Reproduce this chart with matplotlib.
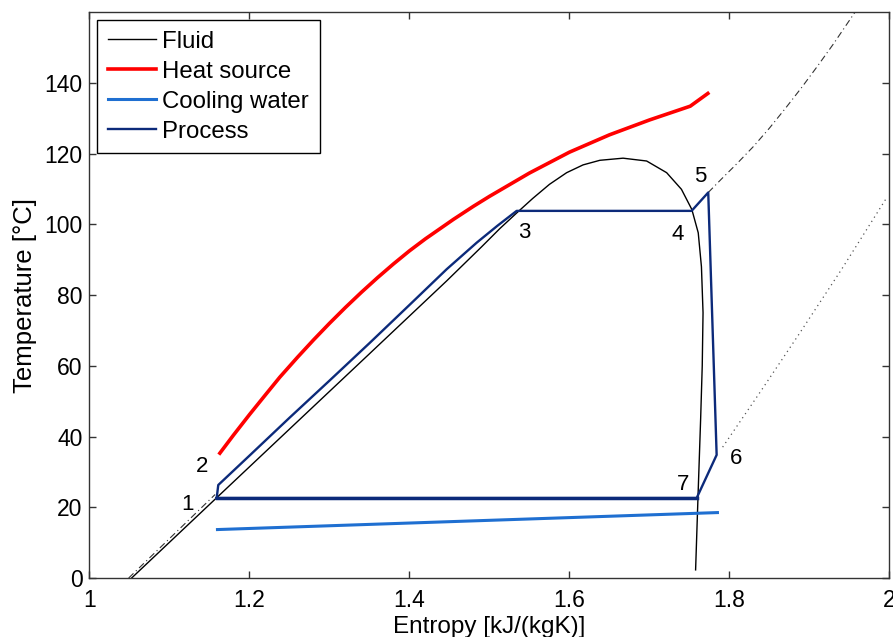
"""
T-s diagram of an ORC process with heat source and cooling water
"""
import numpy as np
import matplotlib
matplotlib.use('Agg')
import matplotlib.pyplot as plt

plt.rcParams['font.family'] = ['Liberation Sans', 'DejaVu Sans']

# saturation dome of the working fluid
fluid_s = [1.0527, 1.159, 1.25, 1.35, 1.4465, 1.49, 1.513, 1.534, 1.554, 1.575, 1.5965,
           1.617, 1.638, 1.667, 1.6965, 1.7215, 1.740, 1.753, 1.761, 1.765, 1.767,
           1.766, 1.764, 1.761, 1.7577]
fluid_T = [0.0, 22.7, 42.1, 63.4, 84.0, 93.6, 98.8, 103.2, 107.3, 111.3, 114.6,
           116.8, 118.1, 118.7, 117.9, 114.6, 109.9, 104.2, 97.6, 88.0, 75.0,
           60.0, 45.0, 25.0, 2.3]

# high pressure isobar (dash-dot), liquid and vapour parts
hp_liq_s = [1.049, 1.157]
hp_liq_T = [0.0, 23.6]
hp_vap_s = [1.7735, 1.79, 1.81, 1.83, 1.85, 1.87, 1.89, 1.91, 1.93, 1.954, 1.957]
hp_vap_T = [109.0, 112.8, 117.3, 122.0, 127.2, 132.8, 138.6, 144.7, 151.0, 159.0, 160.0]

# low pressure isobar (dotted)
lp_s = [1.7915, 1.84, 1.888, 1.94, 1.9965]
lp_T = [37.0, 53.1, 69.3, 87.2, 107.5]

# heat source
hs_s = [1.163, 1.18, 1.20, 1.22, 1.238, 1.26, 1.28, 1.30, 1.32, 1.34, 1.36, 1.38, 1.40,
        1.42, 1.455, 1.48, 1.50, 1.55, 1.60, 1.65, 1.70, 1.751, 1.773]
hs_T = [35.3, 40.4, 46.2, 51.8, 56.8, 62.4, 67.3, 72.0, 76.5, 80.8, 84.9, 88.8, 92.5,
        95.9, 101.4, 105.1, 107.9, 114.5, 120.4, 125.3, 129.5, 133.4, 137.0]

# cooling water
cw_s = [1.16, 1.785]
cw_T = [13.7, 18.5]

# process states 1 -> 2 -> 3 -> 4 -> 5 -> 6 -> 7 -> 1
proc_s = [1.159, 1.161, 1.20, 1.25, 1.30, 1.35, 1.40, 1.4465, 1.484, 1.51, 1.534,
          1.7527, 1.7735, 1.784, 1.759, 1.159]
proc_T = [22.6, 26.3, 34.6, 45.3, 55.8, 66.4, 77.2, 87.3, 94.8, 99.6, 103.8,
          103.8, 109.0, 34.8, 22.6, 22.6]

state_labels = ['1', '2', '3', '4', '5', '6', '7']
label_s = [1.123, 1.141, 1.543, 1.735, 1.764, 1.808, 1.742]
label_T = [20.7, 31.4, 97.7, 97.2, 113.6, 33.7, 26.3]

navy = '#0c2a7a'

fig = plt.figure(figsize=(8.93, 6.37), dpi=100)
ax = fig.add_axes([0.1002, 0.0926, 0.8958, 0.8884])

ax.plot(fluid_s, fluid_T, color='k', lw=1.0, label='Fluid')
ax.plot(hp_liq_s, hp_liq_T, color='#333333', lw=0.8, dashes=(6, 3, 1, 3))
ax.plot(hp_vap_s, hp_vap_T, color='#333333', lw=0.8, dashes=(6, 3, 1, 3))
ax.plot(lp_s, lp_T, color='#555555', lw=0.9, linestyle=(0, (1, 3)))
ax.plot(hs_s, hs_T, color='#ff0000', lw=2.6, label='Heat source')
ax.plot(cw_s, cw_T, color='#1f6fd1', lw=2.2, label='Cooling water')
ax.plot(proc_s, proc_T, color=navy, lw=1.7, label='Process')
ax.plot([proc_s[-2], proc_s[-1]], [proc_T[-2], proc_T[-1]], color=navy, lw=2.5)

for lab, s, T in zip(state_labels, label_s, label_T):
    ax.text(s, T, lab, fontsize=16, ha='center', va='center')

ax.set_xlim(1, 2)
ax.set_ylim(0, 160)
ax.set_xticks([1, 1.2, 1.4, 1.6, 1.8, 2])
ax.set_xticklabels(['1', '1.2', '1.4', '1.6', '1.8', '2'])
ax.set_yticks(np.arange(0, 141, 20))
ax.tick_params(direction='in', length=5, width=1, color='#333333', labelsize=16.5,
               top=True, right=True, pad=5)
ax.tick_params(axis='x', pad=8)
for sp in ax.spines.values():
    sp.set_color('#333333')
    sp.set_linewidth(1)

ax.set_xlabel('Entropy [kJ/(kgK)]', fontsize=17.5, labelpad=3)
ax.set_ylabel('Temperature [°C]', fontsize=18.5, labelpad=5)

leg = ax.legend(loc='upper left', fontsize=17.3, fancybox=False, edgecolor='k',
                framealpha=1, handlelength=2.0, handletextpad=0.25,
                borderaxespad=0.33, labelspacing=0.33, borderpad=0.45)
leg.get_frame().set_linewidth(1.0)

fig.savefig('out.png', dpi=100)
